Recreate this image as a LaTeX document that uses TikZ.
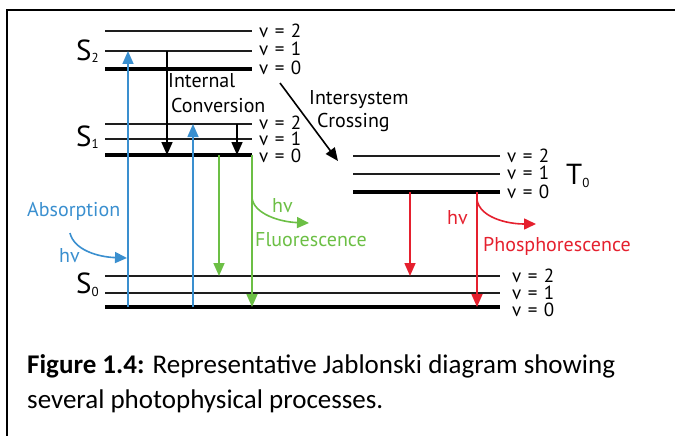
\documentclass[tikz,border=0pt]{standalone}
\usepackage{fontspec}
\setmainfont{PT Sans}
\newfontfamily\capfont{Carlito}
\usetikzlibrary{arrows.meta}
\definecolor{absblue}{HTML}{3A8FCF}
\definecolor{flgreen}{HTML}{6CBF45}
\definecolor{phred}{HTML}{E5202E}
\definecolor{lvlgray}{HTML}{1E1E1E}
\newcommand{\vibl}[1]{v\hspace{6.5pt}=\hspace{6.5pt}#1}
\begin{document}
\begin{tikzpicture}[x=1pt,y=-1pt,
  font=\fontsize{20}{22}\selectfont,
  thinlvl/.style={line width=1.3pt, lvlgray},
  thicklvl/.style={line width=4.6pt, black},
  vlab/.style={anchor=west, inner sep=0pt, font=\fontsize{19}{20}\selectfont},
  txt/.style={anchor=base west, inner sep=0pt},
  statelab/.style={anchor=base west, inner sep=0pt, font=\fontsize{29}{29}\selectfont},
  arr/.style={line width=1.6pt, -{Triangle[length=13pt,width=11pt]}},
  curvearr/.style={line width=1.6pt, -{Triangle[length=12pt,width=11pt]}},
  caption/.style={anchor=base west, inner sep=0pt, font=\capfont\fontsize{27}{35}\selectfont}]
\useasboundingbox (0,0) rectangle (675,436);
% frame
\draw[line width=1.8pt] (675,10) -- (7,10) -- (7,436);

% ---- S2 levels
\draw[thinlvl]  (105,31) -- (252,31) coordinate (S2v2);
\draw[thinlvl]  (105,51) -- (252,51) coordinate (S2v1);
\draw[thicklvl] (105,69) -- (252,69) coordinate (S2v0);
% ---- S1 levels
\draw[thinlvl]  (105,124) -- (252,124) coordinate (S1v2);
\draw[thinlvl]  (105,139) -- (252,139) coordinate (S1v1);
\draw[thicklvl] (105,155) -- (252,155) coordinate (S1v0);
% ---- T levels
\draw[thinlvl]  (353,156) -- (500,156) coordinate (Tv2);
\draw[thinlvl]  (353,174) -- (500,174) coordinate (Tv1);
\draw[thicklvl] (353,192) -- (500,192) coordinate (Tv0);
% ---- S0 levels
\draw[thinlvl]  (105,276) -- (500,276) coordinate (S0v2);
\draw[thinlvl]  (105,293) -- (500,293) coordinate (S0v1);
\draw[thicklvl] (105,307) -- (500,307) coordinate (S0v0);

% vibrational labels
\node[vlab] (lS2v2) at (259,31) {\vibl{2}};
\node[vlab] (lS2v1) at (259,49) {\vibl{1}};
\node[vlab] (lS2v0) at (259,68) {\vibl{0}};
\node[vlab] (lS1v2) at (259,123) {\vibl{2}};
\node[vlab] (lS1v1) at (259,139) {\vibl{1}};
\node[vlab] (lS1v0) at (259,156) {\vibl{0}};
\node[vlab] (lTv2) at (507,156) {\vibl{2}};
\node[vlab] (lTv1) at (507,173) {\vibl{1}};
\node[vlab] (lTv0) at (507,192) {\vibl{0}};
\node[vlab] (lS0v2) at (512,276) {\vibl{2}};
\node[vlab] (lS0v1) at (512,293) {\vibl{1}};
\node[vlab] (lS0v0) at (512,310) {\vibl{0}};

% state labels
\node[statelab] (S2lab) at (76,60) {S\raisebox{-2pt}{\fontsize{13}{13}\selectfont 2}};
\node[statelab] (S1lab) at (76,146) {S\raisebox{-2pt}{\fontsize{13}{13}\selectfont 1}};
\node[statelab] (S0lab) at (76,293) {S\raisebox{-3pt}{\fontsize{13}{13}\selectfont 0}};
\node[statelab] (T0lab) at (566,184) {T\raisebox{-3pt}{\fontsize{13}{13}\selectfont 0}};

% arrow end points
\coordinate (A1b) at (128,307); \coordinate (A1t) at (128,51);
\coordinate (A2b) at (193,307); \coordinate (A2t) at (193,124);
\coordinate (IC1t) at (167,51); \coordinate (IC1b) at (167,155);
\coordinate (IC2t) at (237,124); \coordinate (IC2b) at (237,155);
\coordinate (F1t) at (219,155); \coordinate (F1b) at (219,276);
\coordinate (F2t) at (252,155); \coordinate (F2b) at (252,307);
\coordinate (P1t) at (410,192); \coordinate (P1b) at (410,276);
\coordinate (P2t) at (477,192); \coordinate (P2b) at (477,307);
\coordinate (ISCa) at (280,83); \coordinate (ISCb) at (338,161);

% absorption
\draw[arr, absblue] (A1b) -- (A1t);
\draw[arr, absblue] (A2b) -- (A2t);
% internal conversion
\draw[arr, black] (IC1t) -- (IC1b);
\draw[arr, black] (IC2t) -- (IC2b);
% fluorescence
\draw[arr, flgreen] (F1t) -- (F1b);
\draw[arr, flgreen] (F2t) -- (F2b);
% phosphorescence
\draw[arr, phred] (P1t) -- (P1b);
\draw[arr, phred] (P2t) -- (P2b);
% intersystem crossing
\draw[arr, black] (ISCa) -- (ISCb);

% photon curves
\coordinate (hvAa) at (70,233); \coordinate (hvAb) at (127,258);
\draw[curvearr, absblue] (hvAa) .. controls (74,250) and (98,257) .. (hvAb);
\coordinate (hvFa) at (252,198); \coordinate (hvFb) at (309,223);
\draw[curvearr, flgreen] (hvFa) .. controls (254,214) and (280,222) .. (hvFb);
\coordinate (hvPa) at (477,200); \coordinate (hvPb) at (536,224);
\draw[curvearr, phred] (hvPa) .. controls (480,217) and (506,224) .. (hvPb);

% process labels
\node[txt, absblue] (absl) at (27,216) {Absorption};
\node[txt, absblue] (hvA) at (59,262) {hv};
\node[txt, flgreen] (hvF) at (272,212) {hv};
\node[txt, flgreen] (fll) at (255,246) {Fluorescence};
\node[txt, phred] (hvP) at (447,224) {hv};
\node[txt, phred] (phl) at (483,251) {Phosphorescence};
\node[txt] (icl1) at (168,88) {Internal};
\node[txt] (icl2) at (171,113) {Conversion};
\node[txt] (iscl1) at (309,104) {Intersystem};
\node[txt] (iscl2) at (317,127) {Crossing};

% caption
\node[caption] (cap1) at (27,373) {\textbf{Figure 1.4:} Representative Jablonski diagram showing};
\node[caption] (cap2) at (27,408) {several photophysical processes.};
\end{tikzpicture}
\end{document}
